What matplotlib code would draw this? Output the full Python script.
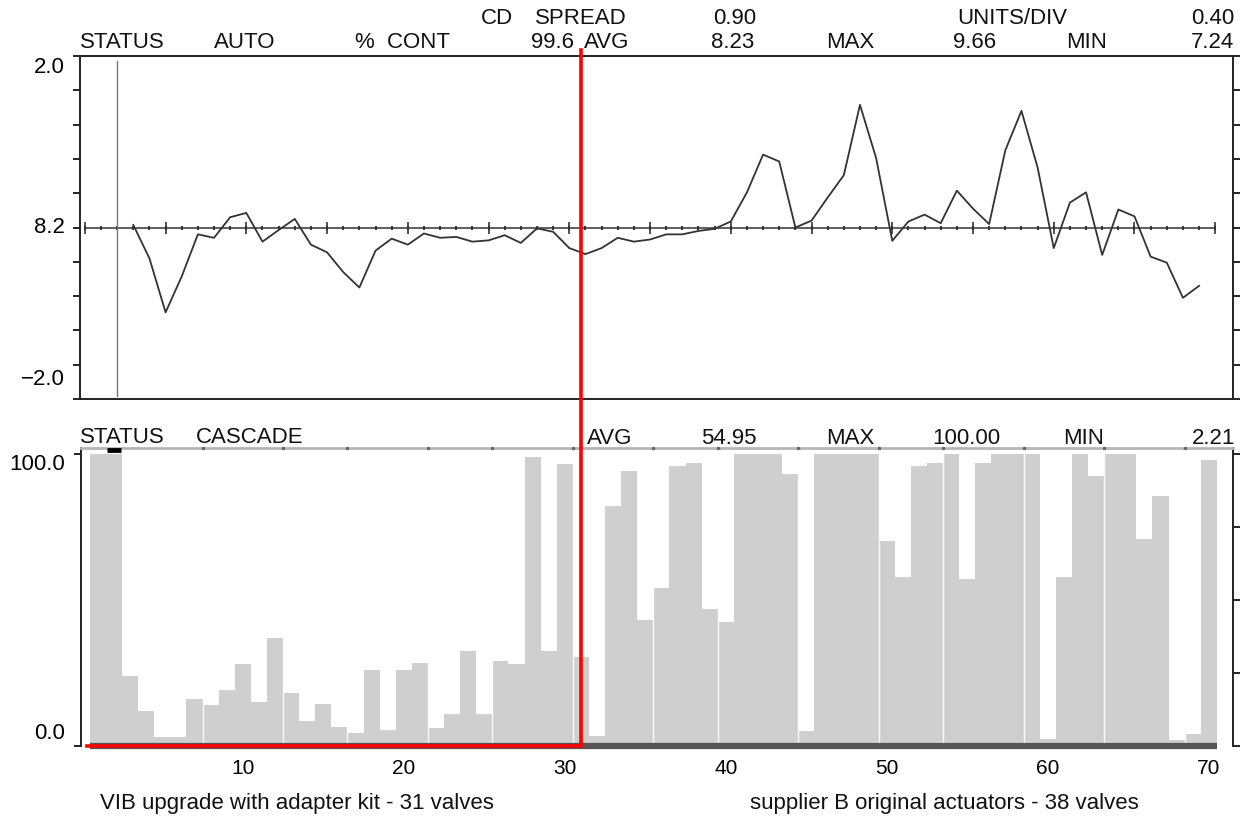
import numpy as np
import matplotlib
matplotlib.use("Agg")
import matplotlib.pyplot as plt

plt.rcParams['font.family'] = ['Liberation Sans', 'DejaVu Sans']

# CD profile, deviation from the 8.23 average, valves 3..69
profile_pos = list(range(3, 70))
profile_dev = [0.03, -0.36, -0.99, -0.57, -0.08, -0.12, 0.12, 0.17, -0.165, -0.03,
               0.10, -0.20, -0.29, -0.52, -0.70, -0.27, -0.13, -0.20, -0.07, -0.12,
               -0.11, -0.165, -0.15, -0.09, -0.18, -0.01, -0.05, -0.24, -0.31,
               -0.24, -0.12, -0.165, -0.14, -0.08, -0.08, -0.04, -0.015, 0.07, 0.41,
               0.85, 0.77, 0.0, 0.08, 0.35, 0.61, 1.43, 0.81, -0.155, 0.07, 0.15,
               0.05, 0.43, 0.22, 0.04, 0.90, 1.36, 0.70, -0.24, 0.29, 0.41, -0.32,
               0.21, 0.13, -0.34, -0.41, -0.82, -0.68]

# valve output (%), valves 1..70
valve_pos = list(range(1, 71))
valve_out = [100, 100, 24, 12, 3, 3, 16, 14, 19, 28, 15, 37, 18, 8.5, 14.5, 6.5,
             4.5, 26, 5.5, 26, 28.5, 6, 11, 32.5, 11, 29, 28, 99, 32.5, 96.5, 30.5,
             3.5, 82, 94, 43, 54, 96, 97, 47, 42.5, 100, 100, 100, 93, 5, 100, 100,
             100, 100, 70, 58, 96, 97, 100, 57, 97, 100, 100, 100, 2.5, 58, 100,
             92.5, 100, 100, 71, 85.5, 2.21, 4, 98]

zone_edges = [7.5, 12.5, 16.5, 21.5, 25.5, 30.5, 35.5, 39.5, 44.5, 49.5, 53.5,
              58.5, 63.5, 68.5]
x_labels = [10, 20, 30, 40, 50, 60, 70]
split_valve = 31

W, H = 1247, 818
fig = plt.figure(figsize=(W / 100, H / 100), dpi=100)


def rect(l, t, r, b):
    return [l / W, 1 - b / H, (r - l) / W, (b - t) / H]


def ftext(x, y, s, ha='left', size=16):
    fig.text(x / W, 1 - y / H, s, ha=ha, va='center', fontsize=size, color='#111')


# ---- top panel: CD profile ----
ax1 = fig.add_axes(rect(80, 56, 1233, 399))
ax1.set_xlim(-0.3, 71.1)
ax1.set_ylim(-2.0, 2.0)
ax1.plot(profile_pos, profile_dev, color='#333333', lw=1.3)
ax1.plot([0, 70], [0, 0], color='#333333', lw=1.1)
ticks_all = np.arange(0, 71)
ax1.plot(ticks_all, np.zeros(len(ticks_all)), ls='none', marker='|', ms=2.5,
         mew=1.4, color='#333333')
ax1.plot(ticks_all[::5], np.zeros(len(ticks_all[::5])), ls='none', marker='|',
         ms=8, mew=1.2, color='#333333')
ax1.axvline(2, ymin=0.01, ymax=0.985, color='#777777', lw=1.0)
ax1.set_xticks([])
ax1.set_yticks(np.arange(-2.0, 2.01, 0.4))
ax1.tick_params(axis='y', left=True, right=True, direction='out', length=5,
                width=1.2, labelleft=False)
for s in ax1.spines.values():
    s.set_linewidth(1.4)
    s.set_color('#222222')
ytr = ax1.get_yaxis_transform()
for val, lab in [(1.87, '2.0'), (0.0, '8.2'), (-1.77, '\u22122.0')]:
    ax1.text(-0.013, val, lab, transform=ytr, ha='right', va='center', fontsize=16)

# ---- bottom panel: valve output ----
AX2_TOP, AX2_BOT, YMAX = 448, 746, 102.0
ax2 = fig.add_axes(rect(81, AX2_TOP, 1233, AX2_BOT))
ax2.set_xlim(-0.05, 71.5)
ax2.set_ylim(0, YMAX)
ax2.bar(valve_pos, valve_out, width=1.0, color='#cfcfcf', linewidth=0)
for e in zone_edges:
    ax2.axvline(e, color='white', lw=1.0, alpha=0.9)
ax2.plot(zone_edges, [YMAX] * len(zone_edges), ls='none', marker='.', ms=3,
         color='#666666', clip_on=False, zorder=5)
ax2.plot([0.5, 70.5], [0, 0], color='#555555', lw=4.5, solid_capstyle='butt',
         clip_on=False, zorder=4)
ax2.plot([1.55, 2.45], [YMAX - 0.8, YMAX - 0.8], color='black', lw=3.5,
         solid_capstyle='butt', clip_on=False, zorder=6)

ax2.set_xticks(x_labels)
ax2.set_xticklabels([str(v) for v in x_labels])
ax2.tick_params(axis='x', length=0, labelsize=15, pad=9)
ax2.set_yticks([0, 100])
ax2.set_yticks([25, 50, 75], minor=True)
ax2.tick_params(axis='y', which='major', left=True, right=True, direction='out',
                length=5, width=1.2, labelleft=False)
ax2.tick_params(axis='y', which='minor', left=False, right=True, direction='out',
                length=5, width=1.2)
ax2.spines['bottom'].set_visible(False)
ax2.spines['top'].set_color('#b5b5b5')
ax2.spines['top'].set_linewidth(2.0)
for k in ('left', 'right'):
    ax2.spines[k].set_linewidth(1.4)
    ax2.spines[k].set_color('#222222')
ytr2 = ax2.get_yaxis_transform()
ax2.text(-0.014, 96.2, '100.0', transform=ytr2, ha='right', va='center', fontsize=16)
ax2.text(-0.014, 4.4, '0.0', transform=ytr2, ha='right', va='center', fontsize=16)

# red split marker: down from the header to the base, then left along the base
px_per_unit = (AX2_BOT - AX2_TOP) / YMAX
y_red_top = (AX2_BOT - 50) / px_per_unit
ax2.plot([0.3, split_valve, split_valve], [0, 0, y_red_top], color='#ff0000',
         lw=2.6, clip_on=False, zorder=10, solid_joinstyle='miter')

# ---- header texts ----
ftext(481, 18, 'CD')
ftext(535, 18, 'SPREAD')
ftext(756, 18, '0.90', ha='right')
ftext(957, 18, 'UNITS/DIV')
ftext(1234, 18, '0.40', ha='right')

ftext(80, 42, 'STATUS')
ftext(214, 42, 'AUTO')
ftext(355, 42, '%  CONT')
ftext(574, 42, '99.6', ha='right')
ftext(584, 42, 'AVG')
ftext(754, 42, '8.23', ha='right')
ftext(826, 42, 'MAX')
ftext(996, 42, '9.66', ha='right')
ftext(1066, 42, 'MIN')
ftext(1234, 42, '7.24', ha='right')

ftext(80, 437, 'STATUS')
ftext(196, 437, 'CASCADE')
ftext(587, 438, 'AVG')
ftext(757, 438, '54.95', ha='right')
ftext(826, 438, 'MAX')
ftext(1000, 438, '100.00', ha='right')
ftext(1063, 438, 'MIN')
ftext(1235, 439, '2.21', ha='right')

ftext(297, 804, 'VIB upgrade with adapter kit - 31 valves', ha='center')
ftext(944, 804, 'supplier B original actuators - 38 valves', ha='center')

fig.savefig('out.png', dpi=100, facecolor='white')
